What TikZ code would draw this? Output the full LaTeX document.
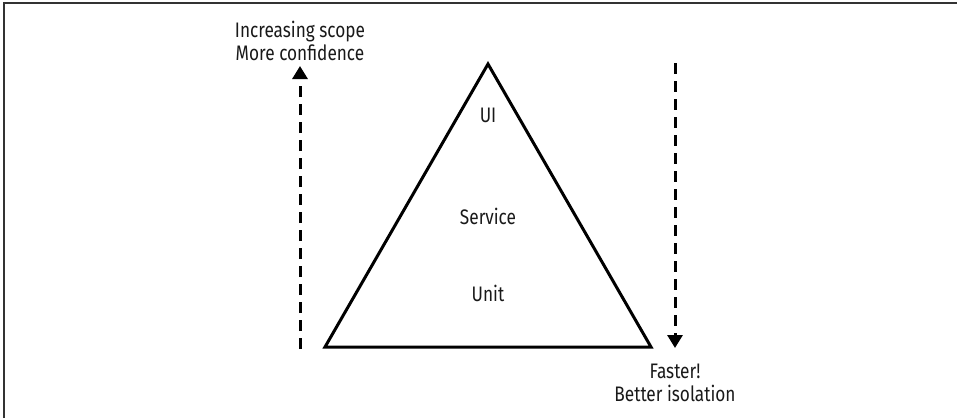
\documentclass[tikz,border=0pt]{standalone}
\usepackage{fontspec}
\setmainfont[FakeStretch=0.82]{Fira Sans}
\usetikzlibrary{arrows.meta}
\begin{document}
\begin{tikzpicture}[x=1pt,y=-1pt,
  lbl/.style={font=\fontsize{21}{23}\selectfont, inner sep=0pt, align=center, text=black!90},
  dasharrow/.style={line width=3pt, dash pattern=on 11pt off 7pt, -{Triangle[width=15pt,length=13pt]}},
  tri/.style={line width=3pt, line join=miter}]
\useasboundingbox (0,0) rectangle (957,418);
\draw[line width=1.6pt, black!80] (4,418) -- (4,3) -- (957,3);
% triangle
\coordinate (apex) at (488,64);
\coordinate (bl) at (325,347);
\coordinate (br) at (651,347);
\draw[tri] (apex) -- (bl) -- (br) -- cycle;
% arrows
\coordinate (lbot) at (300,349);
\coordinate (ltop) at (300,66);
\coordinate (rtop) at (675,63);
\coordinate (rbot) at (675,348);
\draw[dasharrow] (lbot) -- (ltop);
\draw[dasharrow] (rtop) -- (rbot);
% labels
\node[lbl, anchor=base] (scope) at (300,60) {Increasing scope\\More confidence};
\node[lbl, anchor=base] (fast) at (675,401) {Faster!\\Better isolation};
\node[lbl, anchor=base] (ui) at (488,122) {UI};
\node[lbl, anchor=base] (svc) at (488,224) {Service};
\node[lbl, anchor=base] (unit) at (488,301) {Unit};
\end{tikzpicture}
\end{document}
